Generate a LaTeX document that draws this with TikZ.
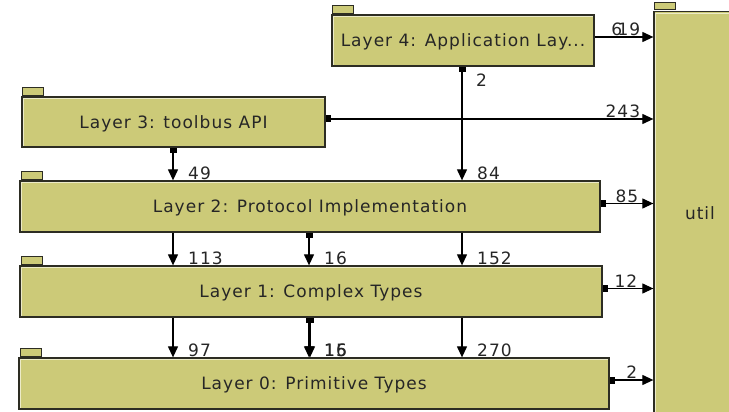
\documentclass[tikz,border=0pt]{standalone}
\usepackage{fontspec}
\setmainfont{DejaVu Sans}[LetterSpace=6]
\usetikzlibrary{arrows.meta,calc}
\definecolor{boxfill}{RGB}{204,202,120}
\definecolor{boxline}{RGB}{45,45,35}
\definecolor{boxhi}{RGB}{236,235,200}
\begin{document}
\begin{tikzpicture}[x=1pt,y=-1pt,
  pkg/.style={draw=boxline, line width=1.3pt, fill=boxfill, rectangle, inner sep=0pt,
    font=\fontsize{17}{20}\selectfont, text=black!85, text depth=0pt},
  tab/.style={draw=boxline, line width=1.1pt, fill=boxfill, rectangle, inner sep=0pt,
    minimum width=21pt, minimum height=7.5pt, anchor=south west},
  hi/.style={draw=boxhi, line width=1pt},
  dep/.style={draw=black, line width=1.2pt, -{Triangle[length=11pt,width=10pt]}},
  src/.style={{Square[length=5pt,width=7pt]}-{Triangle[length=11pt,width=10pt]}},
  lbl/.style={inner sep=0pt, font=\fontsize{17}{20}\selectfont, text=black!85}
]
\useasboundingbox (0,0) rectangle (729,412);
\clip (0,0) rectangle (729,412);
\fill[white] (0,0) rectangle (729,412);

% packages
\node[pkg, minimum width=262pt, minimum height=51pt] (l4) at (463,40.5) {Layer 4: Application Lay...};
\node[pkg, minimum width=303pt, minimum height=50pt] (l3) at (173.5,122) {Layer 3: toolbus API};
\node[pkg, minimum width=580pt, minimum height=51pt] (l2) at (310,206.5) {Layer 2: Protocol Implementation};
\node[pkg, minimum width=582pt, minimum height=51pt] (l1) at (311,291.5) {Layer 1: Complex Types};
\node[pkg, minimum width=590pt, minimum height=51pt] (l0) at (314,383.5) {Layer 0: Primitive Types};
\node[pkg, minimum width=92pt, minimum height=403pt] (util) at (700,213) {util};

% highlights
\foreach \n in {l4,l3,l2,l1,l0,util}{
  \draw[hi] ($(\n.south west)+(2.2,-2)$) -- ($(\n.north west)+(2.2,2.2)$) -- ($(\n.north east)+(-2,2.2)$);
}

% tabs
\node[tab] (t4) at ($(l4.north west)+(1,-0.6)$) {};
\node[tab] (t3) at ($(l3.north west)+(1,-0.6)$) {};
\node[tab] (t2) at ($(l2.north west)+(2,-0.6)$) {};
\node[tab] (t1) at ($(l1.north west)+(2,-0.6)$) {};
\node[tab] (t0) at ($(l0.north west)+(2,-0.6)$) {};
\node[tab] (tu) at ($(util.north west)+(1,-0.6)$) {};

% column positions
\coordinate (cA) at (173,0);
\coordinate (cB) at (309,0);
\coordinate (cC) at (462,0);

% downward dependencies
\draw[dep,src] (l3.south -| cA) -- (l2.north -| cA);
\node[lbl, anchor=base west] (n49) at ($(l2.north -| cA)+(15,-1)$) {49};
\draw[dep] (l2.south -| cA) -- (l1.north -| cA);
\node[lbl, anchor=base west] (n113) at ($(l1.north -| cA)+(15,-1)$) {113};
\draw[dep] (l1.south -| cA) -- (l0.north -| cA);
\node[lbl, anchor=base west] (n97) at ($(l0.north -| cA)+(15,-1)$) {97};

\draw[dep,src] (l2.south -| cB) -- (l1.north -| cB);
\node[lbl, anchor=base west] (n16a) at ($(l1.north -| cB)+(15,-1)$) {16};
\draw[dep,src] (l1.south -| cB) -- (l0.north -| cB);
\draw[dep,src] ($(l1.south -| cB)+(1,0)$) -- ($(l0.north -| cB)+(1,0)$);
\node[lbl, anchor=base west] (n15) at ($(l0.north -| cB)+(15,-1)$) {15};
\node[lbl, anchor=base west] (n16b) at ($(l0.north -| cB)+(15,-1)$) {16};

\draw[dep,src] (l4.south -| cC) -- (l2.north -| cC);
\node[lbl, anchor=base west] (n2a) at ($(l4.south -| cC)+(14,20)$) {2};
\node[lbl, anchor=base west] (n84) at ($(l2.north -| cC)+(15,-1)$) {84};
\draw[dep] (l2.south -| cC) -- (l1.north -| cC);
\node[lbl, anchor=base west] (n152) at ($(l1.north -| cC)+(15,-1)$) {152};
\draw[dep] (l1.south -| cC) -- (l0.north -| cC);
\node[lbl, anchor=base west] (n270) at ($(l0.north -| cC)+(15,-1)$) {270};

% dependencies on util
\draw[dep] ([yshift=3.5pt]l4.east) -- ([yshift=3.5pt]l4.east -| util.west);
\node[lbl, anchor=south east] (n6) at ($([yshift=3.5pt]l4.east -| util.west)+(-31,-1)$) {6};
\node[lbl, anchor=south east] (n19) at ($([yshift=3.5pt]l4.east -| util.west)+(-13,-1)$) {19};

\draw[dep,src] ([yshift=3pt]l3.east) -- ([yshift=3pt]l3.east -| util.west);
\node[lbl, anchor=south east] (n243) at ($([yshift=3pt]l3.east -| util.west)+(-13,-1)$) {243};

\draw[dep,src] ([yshift=3pt]l2.east) -- ([yshift=3pt]l2.east -| util.west);
\node[lbl, anchor=south east] (n85) at ($([yshift=3pt]l2.east -| util.west)+(-15,-1)$) {85};

\draw[dep,src] ([yshift=3pt]l1.east) -- ([yshift=3pt]l1.east -| util.west);
\node[lbl, anchor=south east] (n12) at ($([yshift=3pt]l1.east -| util.west)+(-16,-1)$) {12};

\draw[dep,src] ([yshift=3.5pt]l0.east) -- ([yshift=3.5pt]l0.east -| util.west);
\node[lbl, anchor=south east] (n2b) at ($([yshift=3.5pt]l0.east -| util.west)+(-16,-1)$) {2};
\end{tikzpicture}
\end{document}
